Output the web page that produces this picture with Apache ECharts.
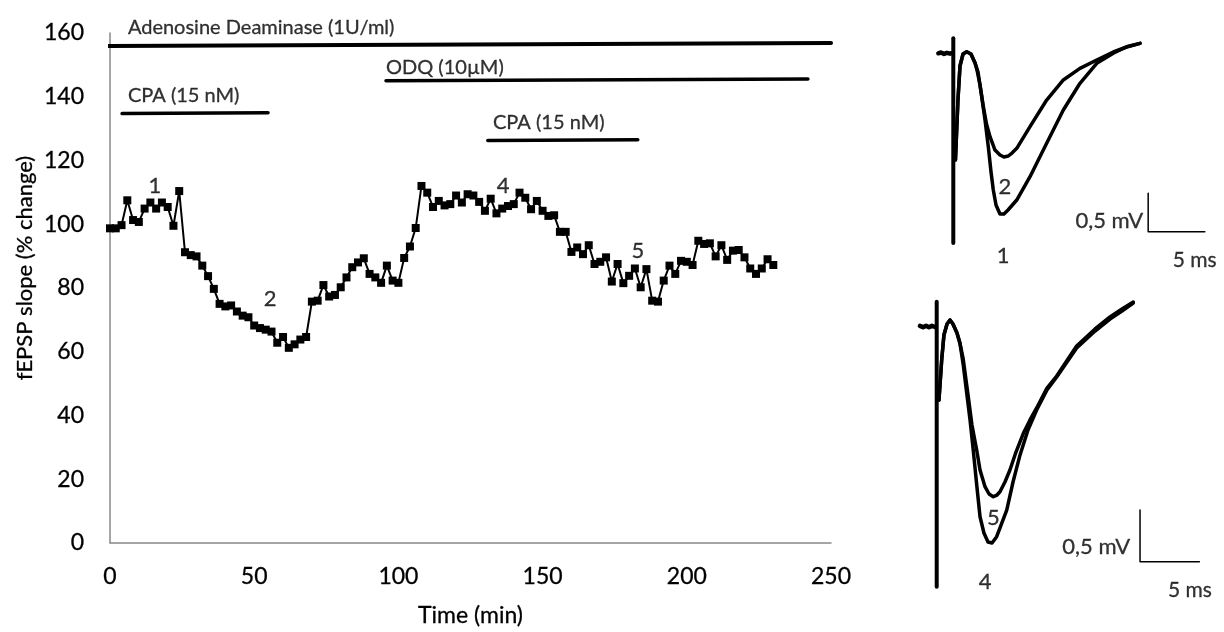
<!DOCTYPE html>
<html>
<head>
<meta charset="utf-8">
<script src="https://cdn.jsdelivr.net/npm/echarts@6/dist/echarts.min.js"></script>
<style>
  html, body { margin: 0; padding: 0; background: #fff; }
  #chart { width: 1224px; height: 632px; }
</style>
</head>
<body>
<div id="chart"></div>
<script>
// ---- fEPSP slope time course (sampled every 2 min) ----
const times = [
  0, 2, 4, 6, 8, 10, 12, 14, 16, 18, 20, 22, 24, 26, 28, 30, 32, 34, 36, 38,
  40, 42, 44, 46, 48, 50, 52, 54, 56, 58, 60, 62, 64, 66, 68, 70, 72, 74, 76, 78,
  80, 82, 84, 86, 88, 90, 92, 94, 96, 98, 100, 102, 104, 106, 108, 110, 112, 114, 116, 118,
  120, 122, 124, 126, 128, 130, 132, 134, 136, 138, 140, 142, 144, 146, 148, 150, 152, 154, 156, 158,
  160, 162, 164, 166, 168, 170, 172, 174, 176, 178, 180, 182, 184, 186, 188, 190, 192, 194, 196, 198,
  200, 202, 204, 206, 208, 210, 212, 214, 216, 218, 220, 222, 224, 226, 228, 230
];
const slope = [
  98.7, 98.7, 99.7, 107.5, 101.3, 100.7, 104.9, 106.8, 104.9, 106.8,
  105.4, 99.5, 110.4, 91.2, 90.3, 89.9, 87.0, 83.7, 79.7, 75.0,
  74.2, 74.5, 72.6, 71.3, 70.8, 68.2, 67.4, 66.9, 66.3, 62.8,
  64.6, 61.2, 62.3, 63.8, 64.6, 75.7, 76.0, 80.9, 77.3, 77.8,
  80.2, 83.3, 86.5, 88.0, 89.3, 84.4, 83.3, 81.6, 87.0, 82.3,
  81.6, 89.4, 93.0, 98.8, 112.0, 109.9, 105.4, 107.3, 105.9, 106.3,
  109.0, 106.8, 109.4, 109.0, 107.0, 104.2, 108.0, 103.4, 104.9, 105.7,
  106.3, 109.9, 108.3, 104.7, 107.3, 104.2, 102.6, 102.8, 97.6, 97.6,
  91.3, 92.7, 90.6, 93.4, 87.5, 88.2, 89.6, 82.0, 87.5, 81.5,
  83.8, 86.1, 80.2, 85.9, 76.0, 75.7, 82.3, 87.0, 84.4, 88.5,
  88.2, 87.2, 94.8, 93.8, 94.0, 89.9, 93.4, 88.8, 91.7, 91.9,
  89.6, 86.1, 84.4, 86.1, 89.0, 87.2
];

// Axis ticks and titles
const xTicks = { min: 0, max: 250, step: 50 };
const yTicks = { min: 0, max: 160, step: 20 };
const xTitle = 'Time (min)';
const yTitle = 'fEPSP slope (% change)';

// ---- drug applications (min) ----
const drugNames = ['Adenosine Deaminase (1U/ml)', 'CPA (15 nM)', 'ODQ (10\u00b5M)', 'CPA (15 nM)'];
const drugOn    = [-0.7, 4.2, 95.7, 131.0];
const drugOff   = [250.0, 54.8, 242.0, 183.0];

// ---- time points of the sample traces ----
const sampleNames = ['1', '2', '4', '5'];
const sampleTimes = [15.6, 55.5, 136.3, 183.0];

// ---- sample fEPSP traces: [ms, mV] ----
const baselineA = [[-1.32, 0], [-1.09, 0.010], [-0.82, -0.008], [-0.56, 0.006], [-0.29, -0.005], [-0.15, 0]];
const trace1 = [
  [0.19, -1.39], [0.41, -0.61], [0.59, -0.166], [0.86, -0.009], [1.18, 0.021], [1.56, -0.009],
  [1.92, -0.126], [2.18, -0.244], [2.51, -0.566], [2.80, -0.870], [3.09, -1.218], [3.33, -1.548],
  [3.53, -1.782], [3.77, -1.978], [4.12, -2.095], [4.47, -2.095], [4.83, -2.043], [5.60, -1.913],
  [6.77, -1.609], [8.24, -1.173], [9.71, -0.739], [11.18, -0.391], [12.66, -0.130], [14.12, 0.0],
  [15.30, 0.086], [16.48, 0.130]
];
const trace2 = [
  [0.19, -1.39], [0.41, -0.61], [0.59, -0.166], [0.86, -0.009], [1.18, 0.021], [1.56, -0.009],
  [1.92, -0.126], [2.09, -0.218], [2.36, -0.413], [2.65, -0.696], [2.93, -0.922], [3.24, -1.087],
  [3.68, -1.261], [4.12, -1.326], [4.47, -1.352], [4.85, -1.339], [5.18, -1.300], [5.60, -1.239],
  [6.77, -0.957], [8.24, -0.609], [9.71, -0.348], [11.18, -0.196], [12.66, -0.087], [14.12, 0.017],
  [15.30, 0.082], [16.48, 0.130]
];
const baselineB = [[-1.41, 0.008], [-1.15, -0.006], [-0.90, 0.009], [-0.65, -0.006], [-0.40, 0.008], [-0.14, -0.003]];
const trace4 = [
  [0.19, -0.709], [0.42, -0.322], [0.61, -0.080], [0.87, 0.026], [1.12, 0.065], [1.37, 0.026],
  [1.71, -0.061], [1.96, -0.161], [2.24, -0.370], [2.53, -0.644], [2.81, -0.902], [3.08, -1.196],
  [3.37, -1.529], [3.65, -1.838], [3.98, -1.995], [4.32, -2.082], [4.66, -2.092], [5.05, -2.031],
  [5.42, -1.918], [5.90, -1.773], [6.43, -1.502], [7.02, -1.240], [7.69, -0.999], [8.42, -0.806],
  [9.29, -0.612], [10.11, -0.486], [11.79, -0.206], [13.34, -0.042], [14.60, 0.074], [15.61, 0.152],
  [16.56, 0.229]
];
const trace5 = [
  [0.19, -0.709], [0.42, -0.322], [0.61, -0.080], [0.87, 0.026], [1.12, 0.065], [1.37, 0.026],
  [1.71, -0.061], [1.96, -0.161], [2.22, -0.303], [2.66, -0.677], [2.97, -0.951], [3.37, -1.192],
  [3.65, -1.386], [4.07, -1.547], [4.41, -1.618], [4.77, -1.644], [5.08, -1.628], [5.33, -1.596],
  [5.75, -1.502], [6.17, -1.386], [6.68, -1.212], [7.30, -1.031], [7.86, -0.902], [8.42, -0.786],
  [9.29, -0.593], [10.11, -0.477], [11.79, -0.187], [13.34, -0.022], [14.60, 0.094], [15.61, 0.171],
  [16.56, 0.239]
];
const artifactA = [[0, 0.196], [0, -2.473]];
const artifactB = [[0, 0.242], [0, -2.515]];

// Scale bars
const scaleMv = 0.5;
const scaleMs = 5;
const scaleMvLabel = '0,5 mV';
const scaleMsLabel = '5 ms';

// ---------------- layout ----------------
const FONT = 'Lato';
const INK = '#000';
const AXIS_GREY = '#888888';
// a hairline outline gives the text a slightly heavier stroke
const INK_EDGE = { textBorderColor: INK, textBorderWidth: 0.3 };

// level (in % units) of each drug bar and of its caption
const drugBarY   = [[155.9, 156.9], [134.7, 135.0], [145.0, 145.6], [126.3, 126.5]];
const drugTextY  = [161.6, 140.3, 149.1, 131.9];
const drugTextX  = [6.2, 6.2, 95.7, 132.8];
const drugBarW   = [4, 3.5, 3.5, 3.5];
const sampleTextY = [111.9, 76.6, 111.9, 91.6];

// trace panels: pixel origin of (0 ms, 0 mV) and pixel scale
const panelA = { x0: 953.3, y0: 53.3, kx: 11.33, ky: 76.7, tMin: -3.0, tMax: 23.5, vMin: -3.0, vMax: 0.3 };
const panelB = { x0: 936.7, y0: 326.7, kx: 11.87, ky: 103.4, tMin: -2.3, tMax: 23.8, vMin: -2.8, vMax: 0.35 };
function panelGrid(p) {
  return {
    left: p.x0 + p.tMin * p.kx,
    top: p.y0 - p.vMax * p.ky,
    width: (p.tMax - p.tMin) * p.kx,
    height: (p.vMax - p.vMin) * p.ky
  };
}
// scale bar corner (top of vertical bar) and caption spots per panel
const barA = { t: 17.2, v: -1.825, msText: [21.3, -2.695], labelGap: 5, numbers: [[4.39, -2.643, '1'], [4.56, -1.743, '2']] };
const barB = { t: 17.13, v: -1.773, msText: [21.34, -2.546], labelGap: 10, numbers: [[4.07, -2.469, '4'], [4.77, -1.85, '5']] };

// anchor -> text alignment around a data point
const ANCHOR = {
  left:   { align: 'left',   verticalAlign: 'middle' },
  center: { align: 'center', verticalAlign: 'middle' },
  right:  { align: 'right',  verticalAlign: 'middle' }
};

function textSeries(xi, items) {
  return {
    type: 'scatter',
    xAxisIndex: xi, yAxisIndex: xi,
    symbolSize: 0.01,
    itemStyle: { color: 'rgba(0,0,0,0)' },
    clip: false,
    silent: true,
    z: 10,
    data: items.map(it => ({
      value: it.at,
      label: Object.assign({
        show: true,
        formatter: it.text,
        fontFamily: FONT, color: INK, fontSize: it.size || 20,
        position: [it.dx || 0, 0]
      }, INK_EDGE, ANCHOR[it.anchor || 'center'])
    }))
  };
}

function lineSeries(xi, data, width) {
  return {
    type: 'line', xAxisIndex: xi, yAxisIndex: xi,
    data: data, symbol: 'none', clip: false, silent: true,
    lineStyle: { color: INK, width: width, join: 'round', cap: 'round' }
  };
}

const series = [];

// main time course
series.push({
  type: 'line',
  xAxisIndex: 0, yAxisIndex: 0,
  data: times.map((t, i) => [t, slope[i]]),
  symbol: 'rect', symbolSize: 8, showAllSymbol: true,
  itemStyle: { color: INK },
  lineStyle: { color: INK, width: 2 },
  z: 5
});

// drug bars and captions
drugNames.forEach((name, i) => {
  series.push(lineSeries(0, [[drugOn[i], drugBarY[i][0]], [drugOff[i], drugBarY[i][1]]], drugBarW[i]));
});
series.push(textSeries(0, drugNames.map((name, i) => ({
  at: [drugTextX[i], drugTextY[i]], text: name, anchor: 'left', size: 20
}))));
// sample time labels
series.push(textSeries(0, sampleNames.map((name, i) => ({
  at: [sampleTimes[i], sampleTextY[i]], text: name, anchor: 'center', size: 22
}))));

// trace panels
function addPanel(xi, base, traces, artifact, bar) {
  series.push(lineSeries(xi, base, 4.5));
  traces.forEach(tr => series.push(lineSeries(xi, tr, 3.5)));
  series.push(lineSeries(xi, artifact, 4));
  series.push(lineSeries(xi, [[bar.t, bar.v], [bar.t, bar.v - scaleMv], [bar.t + scaleMs, bar.v - scaleMv]], 1.5));
  series.push(textSeries(xi, [
    { at: [bar.t, bar.v - scaleMv * 0.72], text: scaleMvLabel, anchor: 'right', dx: -bar.labelGap, size: 22 },
    { at: bar.msText, text: scaleMsLabel, anchor: 'center', size: 21 }
  ].concat(bar.numbers.map(n => ({ at: [n[0], n[1]], text: n[2], anchor: 'center', size: 22 })))));
}
addPanel(1, baselineA, [trace1, trace2], artifactA, barA);
addPanel(2, baselineB, [trace4, trace5], artifactB, barB);

const hiddenAxis = (i, p, dim) => ({
  gridIndex: i, type: 'value', show: false,
  min: dim === 'x' ? p.tMin : p.vMin,
  max: dim === 'x' ? p.tMax : p.vMax,
  splitLine: { show: false }
});

const axisLabelStyle = Object.assign({ fontFamily: FONT, fontSize: 23, color: INK }, INK_EDGE);

const option = {
  animation: false,
  backgroundColor: '#fff',
  textStyle: { fontFamily: FONT, color: INK },
  grid: [
    { left: 110, top: 33, width: 721, height: 512 },
    panelGrid(panelA),
    panelGrid(panelB)
  ],
  xAxis: [
    {
      gridIndex: 0, type: 'value',
      min: xTicks.min, max: xTicks.max, interval: xTicks.step,
      axisLine: { show: true, lineStyle: { color: AXIS_GREY, width: 1.5 } },
      axisTick: { show: false },
      splitLine: { show: false },
      axisLabel: Object.assign({ margin: 22 }, axisLabelStyle),
      name: xTitle, nameLocation: 'middle', nameGap: 61,
      nameTextStyle: Object.assign({}, axisLabelStyle)
    },
    hiddenAxis(1, panelA, 'x'),
    hiddenAxis(2, panelB, 'x')
  ],
  yAxis: [
    {
      gridIndex: 0, type: 'value',
      min: yTicks.min, max: yTicks.max, interval: yTicks.step,
      axisLine: { show: true, lineStyle: { color: AXIS_GREY, width: 1.5 } },
      axisTick: { show: false },
      splitLine: { show: false },
      axisLabel: Object.assign({ margin: 26 }, axisLabelStyle)
    },
    hiddenAxis(1, panelA, 'y'),
    hiddenAxis(2, panelB, 'y')
  ],
  // vertical axis title, set a little above the plot's middle
  graphic: [{
    type: 'text',
    x: 25, y: 268,
    rotation: Math.PI / 2,
    silent: true,
    style: {
      text: yTitle,
      font: '22px ' + FONT,
      fill: INK,
      stroke: INK, lineWidth: 0.3,
      align: 'center',
      verticalAlign: 'middle'
    }
  }],
  series: series
};

const chart = echarts.init(document.getElementById('chart'), null, { renderer: 'canvas' });
chart.setOption(option);
</script>
</body>
</html>
